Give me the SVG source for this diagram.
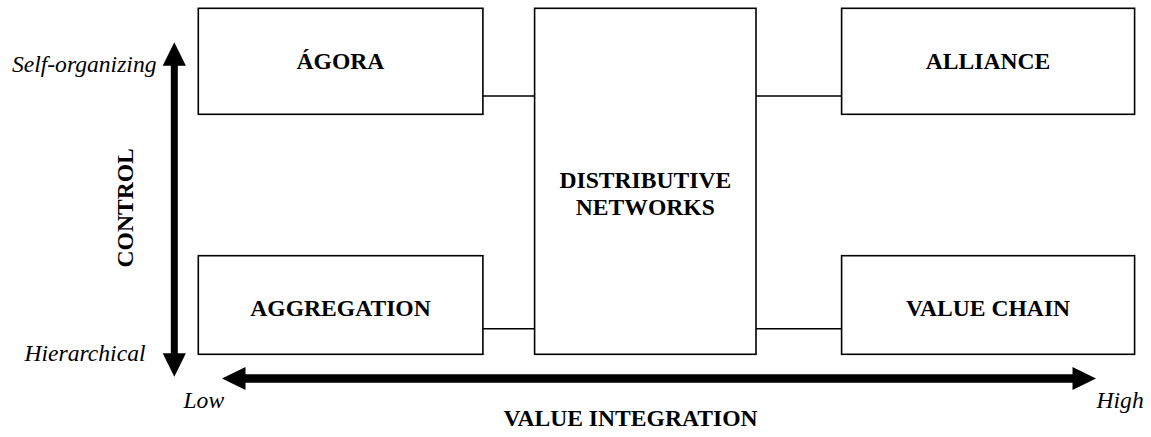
<svg xmlns="http://www.w3.org/2000/svg" xmlns:xlink="http://www.w3.org/1999/xlink" width="1151" height="437" viewBox="0 0 1151 437">
  <style>
    .box { fill: #fff; stroke: #000; stroke-width: 1.6; }
    .link { stroke: #000; stroke-width: 1.6; fill: none; }
    .shaft { stroke: #000; fill: none; }
    .label { font-family: "Liberation Serif", "Times New Roman", serif; font-size: 23.6px; font-weight: bold; fill: #000; text-anchor: middle; }
    .axis { font-family: "Liberation Serif", "Times New Roman", serif; font-size: 23.6px; font-style: italic; fill: #000; }
  </style>
  <defs>
    <!-- arrowhead pointing right, tip at origin -->
    <path id="head" d="M0,0 L-23.5,-11.6 L-23.5,11.6 Z" fill="#000"/>
  </defs>
  <rect width="1151" height="437" fill="#fff"/>

  <!-- axes -->
  <g id="axes">
    <line class="shaft" x1="174.3" y1="64" x2="174.3" y2="354.5" stroke-width="7"/>
    <use xlink:href="#head" transform="translate(174.3,42.3) rotate(-90)"/>
    <use xlink:href="#head" transform="translate(174.3,376.7) rotate(90)"/>
    <line class="shaft" x1="245" y1="378.5" x2="1073" y2="378.5" stroke-width="8.4"/>
    <use xlink:href="#head" transform="translate(222,378.5) rotate(180)"/>
    <use xlink:href="#head" transform="translate(1096,378.5)"/>
    <text class="axis" x="156.5" y="71.7" text-anchor="end">Self-organizing</text>
    <text class="axis" x="145.5" y="361" text-anchor="end">Hierarchical</text>
    <text class="axis" x="183.5" y="408.3">Low</text>
    <text class="axis" x="1096.5" y="408.3">High</text>
    <text class="label" transform="translate(133.3,207.8) rotate(-90)">CONTROL</text>
    <text class="label" x="630.5" y="426">VALUE INTEGRATION</text>
  </g>

  <!-- connectors -->
  <g id="connectors">
    <line class="link" x1="482.9" y1="96" x2="534.6" y2="96"/>
    <line class="link" x1="756" y1="96" x2="841.6" y2="96"/>
    <line class="link" x1="482.9" y1="328.7" x2="534.6" y2="328.7"/>
    <line class="link" x1="753.4" y1="328.7" x2="841.6" y2="328.7"/>
  </g>

  <g id="agora">
    <rect class="box" x="198.3" y="8.3" width="284.6" height="106"/>
    <text class="label" x="340.5" y="69.3">ÁGORA</text>
  </g>
  <g id="aggregation">
    <rect class="box" x="198.3" y="255.7" width="284.6" height="98.6"/>
    <text class="label" x="340.5" y="316">AGGREGATION</text>
  </g>
  <g id="distributive-networks">
    <rect class="box" x="534.6" y="8.3" width="221.4" height="346"/>
    <text class="label" x="645.3" y="188.3">DISTRIBUTIVE</text>
    <text class="label" x="645.3" y="215">NETWORKS</text>
  </g>
  <g id="alliance">
    <rect class="box" x="841.6" y="8.3" width="293" height="106"/>
    <text class="label" x="988.1" y="69.3">ALLIANCE</text>
  </g>
  <g id="value-chain">
    <rect class="box" x="841.6" y="255.7" width="293" height="98.6"/>
    <text class="label" x="988.1" y="316">VALUE CHAIN</text>
  </g>
</svg>
